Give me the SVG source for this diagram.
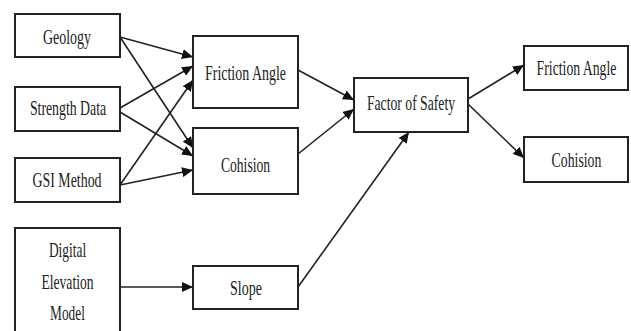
<svg xmlns="http://www.w3.org/2000/svg" width="631" height="331" viewBox="0 0 631 331">
  <style>
    .box { fill: #fff; stroke: #222; stroke-width: 2; }
    .lbl { font-family: "Liberation Serif", "Times New Roman", serif; font-size: 22px; fill: #222; text-anchor: middle; }
    .edge { stroke: #222; stroke-width: 1.6; fill: none; marker-end: url(#arrow); }
  </style>
  <defs>
    <marker id="arrow" markerUnits="userSpaceOnUse" markerWidth="12" markerHeight="10" refX="11" refY="5" orient="auto">
      <path d="M0,0 L11,5 L0,10 Z" fill="#111"/>
    </marker>
  </defs>
  <rect width="631" height="331" fill="#fff"/>

  <g id="connectors">
    <line class="edge" x1="120" y1="37" x2="193" y2="57"/>
    <line class="edge" x1="120" y1="37" x2="193" y2="148"/>
    <line class="edge" x1="120" y1="108" x2="193" y2="66"/>
    <line class="edge" x1="120" y1="112" x2="193" y2="156"/>
    <line class="edge" x1="120" y1="185" x2="193" y2="80"/>
    <line class="edge" x1="120" y1="185" x2="193" y2="170"/>
    <line class="edge" x1="298" y1="70" x2="354" y2="100"/>
    <line class="edge" x1="298" y1="154" x2="354" y2="109"/>
    <line class="edge" x1="298" y1="287" x2="409" y2="132"/>
    <line class="edge" x1="120" y1="287" x2="193" y2="287"/>
    <line class="edge" x1="468" y1="99" x2="524" y2="65"/>
    <line class="edge" x1="468" y1="104" x2="524" y2="158"/>
  </g>

  <!-- labels are set in a condensed serif: each text is squeezed horizontally by 0.6 -->
  <g id="geology">
    <rect class="box" x="15" y="14" width="105" height="43"/>
    <g transform="translate(67,0) scale(0.6,1)"><text class="lbl" x="0" y="44" textLength="80" lengthAdjust="spacingAndGlyphs">Geology</text></g>
  </g>
  <g id="strength-data">
    <rect class="box" x="15" y="87" width="105" height="44"/>
    <g transform="translate(68,0) scale(0.6,1)"><text class="lbl" x="0" y="115" textLength="127" lengthAdjust="spacingAndGlyphs">Strength Data</text></g>
  </g>
  <g id="gsi-method">
    <rect class="box" x="15" y="158" width="105" height="44"/>
    <g transform="translate(67,0) scale(0.6,1)"><text class="lbl" x="0" y="187" textLength="115" lengthAdjust="spacingAndGlyphs">GSI Method</text></g>
  </g>
  <g id="dem">
    <rect class="box" x="15" y="228" width="105" height="110"/>
    <g transform="translate(67.5,0) scale(0.6,1)">
      <text class="lbl" x="0" y="257" textLength="62" lengthAdjust="spacingAndGlyphs">Digital</text>
      <text class="lbl" x="0" y="289" textLength="87" lengthAdjust="spacingAndGlyphs">Elevation</text>
      <text class="lbl" x="0" y="320" textLength="58" lengthAdjust="spacingAndGlyphs">Model</text>
    </g>
  </g>
  <g id="friction-angle">
    <rect class="box" x="193" y="36" width="105" height="72"/>
    <g transform="translate(245.5,0) scale(0.6,1)"><text class="lbl" x="0" y="80" textLength="135" lengthAdjust="spacingAndGlyphs">Friction Angle</text></g>
  </g>
  <g id="cohision">
    <rect class="box" x="193" y="128" width="105" height="66"/>
    <g transform="translate(245.5,0) scale(0.6,1)"><text class="lbl" x="0" y="172" textLength="82" lengthAdjust="spacingAndGlyphs">Cohision</text></g>
  </g>
  <g id="slope">
    <rect class="box" x="193" y="266" width="105" height="43"/>
    <g transform="translate(246,0) scale(0.6,1)"><text class="lbl" x="0" y="295" textLength="53" lengthAdjust="spacingAndGlyphs">Slope</text></g>
  </g>
  <g id="factor-of-safety">
    <rect class="box" x="354" y="78" width="114" height="54"/>
    <g transform="translate(411,0) scale(0.6,1)"><text class="lbl" x="0" y="110" textLength="147" lengthAdjust="spacingAndGlyphs">Factor of Safety</text></g>
  </g>
  <g id="out-friction-angle">
    <rect class="box" x="524" y="46" width="104" height="44"/>
    <g transform="translate(576.5,0) scale(0.6,1)"><text class="lbl" x="0" y="75" textLength="133" lengthAdjust="spacingAndGlyphs">Friction Angle</text></g>
  </g>
  <g id="out-cohision">
    <rect class="box" x="524" y="137" width="104" height="45"/>
    <g transform="translate(576.5,0) scale(0.6,1)"><text class="lbl" x="0" y="167" textLength="83" lengthAdjust="spacingAndGlyphs">Cohision</text></g>
  </g>
</svg>
